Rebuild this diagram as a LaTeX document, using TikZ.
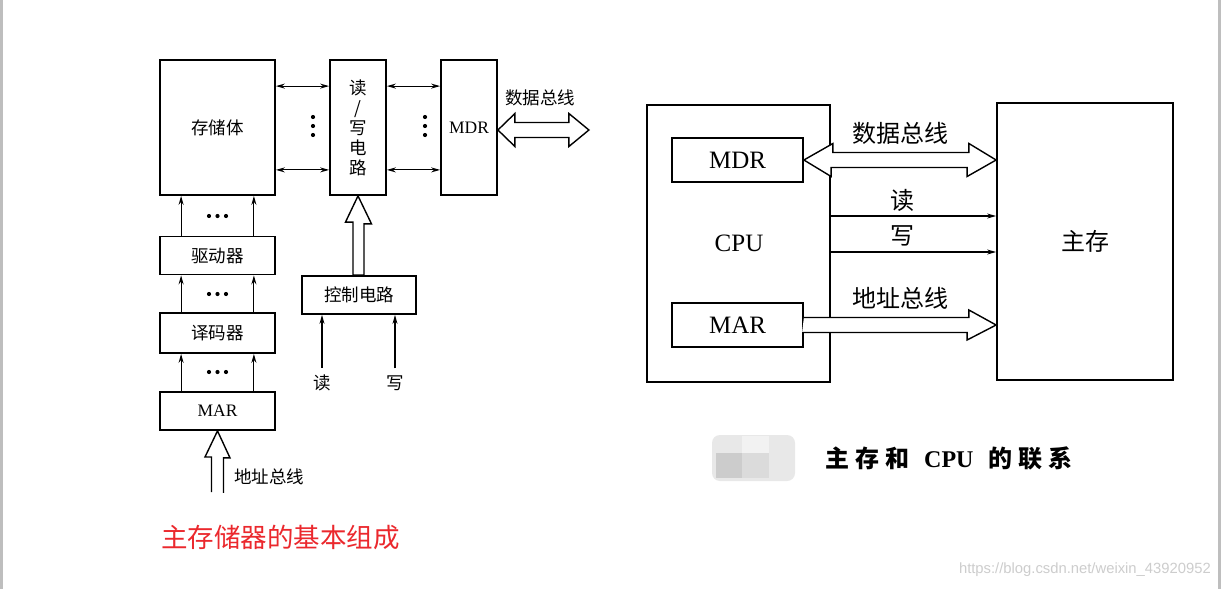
\documentclass[tikz,border=0pt]{standalone}
\usepackage{fontspec}
\setmainfont{Liberation Serif}
\newfontfamily\cjk{Noto Sans CJK SC}
\newfontfamily\wmfont{Liberation Sans}
\usetikzlibrary{arrows.meta,calc}
\newcommand{\fsL}{\fontsize{17.5}{22}\selectfont}
\newcommand{\fsR}{\fontsize{24}{28}\selectfont}
\definecolor{capred}{RGB}{235,40,45}
\definecolor{edgegray}{RGB}{190,190,190}
\definecolor{wmgray}{RGB}{205,205,205}
\tikzset{
  box/.style={draw, line width=1.8pt, inner sep=0pt, minimum width=#1},
  lbl/.style={inner sep=1pt, font=\cjk\fsL},
  rlbl/.style={inner sep=1pt, font=\cjk\fsR},
  arr/.style={line width=1.1pt, -{Stealth[length=9pt,width=5pt]}},
  darr/.style={line width=1.1pt, {Stealth[length=9pt,width=5pt]}-{Stealth[length=9pt,width=5pt]}},
  hollow/.style={draw, line width=1.4pt, fill=white, line join=miter},
  dotc/.style={fill=black, draw=none}
}
\begin{document}
\begin{tikzpicture}[x=1pt,y=-1pt]
\useasboundingbox (0,0) rectangle (1221,589);
\fill[white] (0,0) rectangle (1221,589);
\fill[edgegray] (0,0) rectangle (3,589);
\fill[edgegray] (1218,0) rectangle (1221,589);

% ---------------- left diagram ----------------
\node[box=115pt, minimum height=135pt, font=\cjk\fsL] (cun) at (217.5,127.5) {存储体};
\node[box=56pt, minimum height=135pt, font=\cjk\fsL, align=center] (rw) at (358,127.5) {读\\[-2pt]/\\[-2pt]写\\[-2pt]电\\[-2pt]路};
\node[box=56pt, minimum height=135pt, font=\fontsize{17.5}{20}\selectfont] (mdrL) at (469,127.5) {MDR};
\node[box=115pt, minimum height=38pt, font=\cjk\fsL] (drv) at (217.5,255.5) {驱动器};
\node[box=115pt, minimum height=40pt, font=\cjk\fsL] (dec) at (217.5,333) {译码器};
\node[box=115pt, minimum height=38pt, font=\fontsize{17.5}{20}\selectfont] (marL) at (217.5,411) {MAR};
\node[box=114pt, minimum height=38pt, font=\cjk\fsL] (ctl) at (359,295) {控制电路};

% horizontal small double arrows
\draw[darr] ($(cun.north east)+(0,27)$) -- ($(rw.north west)+(0,27)$);
\draw[darr] ($(cun.south east)+(0,-26)$) -- ($(rw.south west)+(0,-26)$);
\draw[darr] ($(rw.north east)+(0,27)$) -- ($(mdrL.north west)+(0,27)$);
\draw[darr] ($(rw.south east)+(0,-26)$) -- ($(mdrL.south west)+(0,-26)$);
% vertical dots
\foreach \yy in {117,126,135} {
  \fill[dotc] (313,\yy) circle (2.1);
  \fill[dotc] (425,\yy) circle (2.1);
}
% vertical arrows in left column
\draw[arr] ($(drv.north west)+(22,0)$) -- ($(cun.south west)+(22,0)$);
\draw[arr] ($(drv.north east)+(-22,0)$) -- ($(cun.south east)+(-22,0)$);
\draw[arr] ($(dec.north west)+(22,0)$) -- ($(drv.south west)+(22,0)$);
\draw[arr] ($(dec.north east)+(-22,0)$) -- ($(drv.south east)+(-22,0)$);
\draw[arr] ($(marL.north west)+(22,0)$) -- ($(dec.south west)+(22,0)$);
\draw[arr] ($(marL.north east)+(-22,0)$) -- ($(dec.south east)+(-22,0)$);
% horizontal dots
\foreach \yy in {216,294,372} {
  \foreach \xx in {209,217.5,226} {
    \fill[dotc] (\xx,\yy) circle (2.1);
  }
}
% data bus (left)
\draw[hollow] ($(mdrL.east)+(0,2.5)$) -- ++(17,-16.5) -- ++(0,9) -- ++(54,0) -- ++(0,-9)
  -- ++(20,16.5) -- ++(-20,16.5) -- ++(0,-9) -- ++(-54,0) -- ++(0,9) -- cycle;
\node[lbl] (dbLlbl) at (540,98) {数据总线};
% control hollow arrow
\draw[hollow] (rw.south) -- ++(13.5,28) -- ++(-7.5,0) |- (ctl.north) -- ++(-6,0)
  -- ++(0,-53) -- ++(-7.5,0) -- cycle;
% read/write inputs
\node[lbl] (rdL) at (322,383) {读};
\node[lbl] (wrL) at (395,383) {写};
\draw[arr] ($(rdL.north)+(0,-6)$) -- ($(ctl.south)+(-37,0)$);
\draw[arr] ($(wrL.north)+(0,-6)$) -- ($(ctl.south)+(36,0)$);
% address bus (left)
\coordinate (abL) at (217.5,492);
\draw[hollow] (abL) ++(-6,0) -- ++(0,-35) -- ++(-6.5,0) -- (marL.south) -- ++(12.5,27) -- ++(-6.5,0) -- ++(0,35);
\node[lbl, anchor=west] (abLlbl) at (233,477) {地址总线};
% red caption
\node[inner sep=0pt, anchor=west, text=capred, font=\cjk\fontsize{26.5}{30}\selectfont] (cap1) at (161,537) {主存储器的基本组成};

% ---------------- right diagram ----------------
\node[box=183pt, minimum height=277pt] (cpu) at (738.5,243.5) {};
\node[font=\fontsize{25}{28}\selectfont, inner sep=0pt] (cpulbl) at (739,243) {CPU};
\node[box=131pt, minimum height=44pt, font=\fontsize{25}{28}\selectfont, fill=white] (mdrR) at (737.5,160) {MDR};
\node[box=131pt, minimum height=44pt, font=\fontsize{25}{28}\selectfont, fill=white] (marR) at (737.5,325) {MAR};
\node[box=176pt, minimum height=277pt, font=\cjk\fsR] (mem) at (1085,241.5) {主存};

% data bus (right)
\coordinate (dbR) at (mem.west |- mdrR.east);
\draw[hollow] (mdrR.east) -- ++(29,-16.5) -- ++(0,9) -- ++(136,0) -- ++(0,-9)
  -- (dbR) -- ++(-29,16.5) -- ++(0,-9) -- ++(-136,0) -- ++(0,9) -- cycle;
\node[rlbl] (dbRlbl) at (900,133) {数据总线};
% read / write
\draw[arr] ($(cpu.east)+(0,-27.5)$) -- ($(mem.west)+(0,-25.5)$);
\draw[arr] ($(cpu.east)+(0,8.5)$) -- ($(mem.west)+(0,10.5)$);
\node[rlbl] (rdR) at (902,200) {读};
\node[rlbl] (wrR) at (902,236) {写};
% address bus (right)
\coordinate (abR) at (mem.west |- marR.east);
\draw[hollow] ($(marR.east)+(0,-7.5)$) -- ++(165,0) -- ++(0,-7.5) -- (abR) -- ++(-29,15) -- ++(0,-7.5) -- ++(-165,0);
\node[rlbl] (abRlbl) at (900,298) {地址总线};

% blurred patch and caption
\fill[gray!18, rounded corners=8pt] (712,435) rectangle (795,481);
\fill[gray!40] (716,453) rectangle (742,478);
\fill[gray!28] (742,453) rectangle (769,478);
\fill[gray!10] (742,436) rectangle (769,453);
\node[inner sep=0pt, anchor=west, font=\fontsize{24}{28}\selectfont\bfseries] (cap2) at (825,458)
  {{\cjk 主\hspace{6pt}存\hspace{6pt}和}\hspace{15pt}CPU\hspace{15pt}{\cjk 的\hspace{6pt}联\hspace{6pt}系}};
\node[inner sep=0pt, anchor=east, text=wmgray, font=\wmfont\fontsize{14.8}{16}\selectfont] (wm) at (1211,570) {https://blog.csdn.net/weixin\_43920952};
\end{tikzpicture}
\end{document}
